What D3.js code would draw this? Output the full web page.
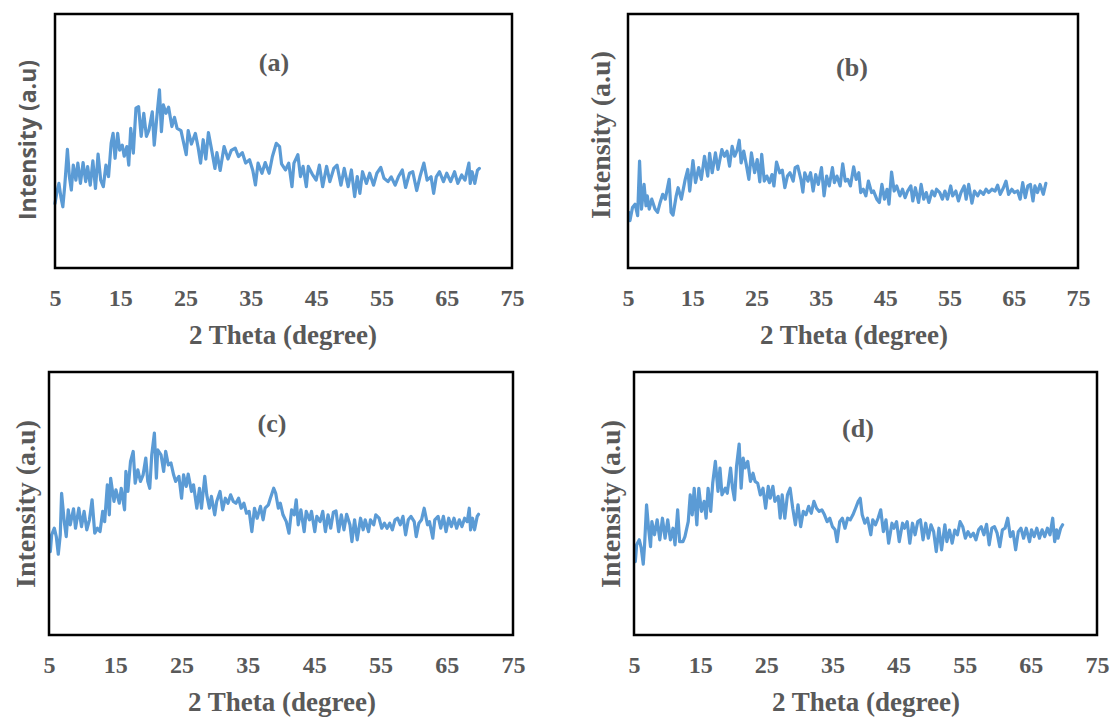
<!DOCTYPE html>
<html>
<head>
<meta charset="utf-8">
<script src="https://cdn.jsdelivr.net/npm/d3@7"></script>
<style>
  body { margin: 0; background: #fff; }
  .tick-label { font-family: "Liberation Serif", "Times New Roman", serif; font-weight: bold; fill: #595959; }
  .axis-title { font-family: "Liberation Serif", "Times New Roman", serif; font-weight: bold; fill: #595959; }
  .panel-label { font-family: "Liberation Serif", "Times New Roman", serif; font-weight: bold; fill: #595959; }
</style>
</head>
<body>
<div id="chart"></div>
<script>
// x axis ticks (2 theta, degree)
const xTicks = [5, 15, 25, 35, 45, 55, 65, 75];
const panelNames = ["(a)", "(b)", "(c)", "(d)"];

// (a)
const thetaA = [5.0,5.3,5.6,5.9,6.2,6.5,6.9,7.2,7.5,7.8,8.2,8.5,8.9,9.3,9.7,10.0,10.4,10.8,11.2,11.6,12.0,12.4,12.8,13.2,13.6,13.9,14.2,14.6,14.9,15.3,15.6,16.0,16.3,16.6,17.0,17.4,17.8,18.2,18.6,19.0,19.4,19.9,20.2,20.7,21.0,21.3,21.6,22.0,22.4,22.9,23.3,23.7,24.3,24.6,25.1,25.4,25.9,26.5,26.9,27.3,27.7,28.1,28.5,29.0,29.5,29.8,30.3,30.9,31.5,32.0,32.6,33.1,33.7,34.2,34.8,35.3,35.7,36.1,36.7,37.2,37.8,38.3,38.9,39.4,39.7,40.3,40.8,41.3,41.6,42.2,42.6,43.0,43.5,43.8,44.4,45.0,45.5,46.0,46.6,47.1,47.7,48.2,48.8,49.3,49.9,50.4,50.9,51.3,51.7,52.1,52.7,53.2,53.8,54.3,54.9,55.4,56.0,56.5,57.1,57.6,58.2,58.7,59.3,59.8,60.4,60.9,61.5,62.0,62.6,63.0,63.4,63.9,64.5,65.0,65.6,66.2,66.7,67.3,67.8,68.4,68.6,68.9,69.3,69.7,70.0];
const intensityA = [25.4,30.0,33.3,28.0,24.1,32.6,46.7,36.0,30.7,40.5,34.6,41.3,33.3,41.5,34.0,39.9,32.6,42.2,31.3,44.8,34.6,32.0,40.5,36.0,49.1,53.0,43.2,53.0,46.4,48.4,44.0,47.8,40.5,55.0,45.2,62.9,63.5,51.8,60.9,51.8,54.4,61.5,48.4,62.2,70.1,53.7,64.2,60.9,63.3,55.7,59.3,55.0,54.1,50.5,44.6,54.1,48.8,53.0,47.8,41.3,50.5,42.9,53.3,46.4,39.2,45.4,38.4,47.8,42.9,46.3,47.2,43.9,45.4,41.3,42.6,38.4,32.7,41.3,37.3,41.5,37.3,43.9,49.1,47.8,41.0,38.6,41.3,32.0,41.3,44.6,36.0,40.0,32.0,40.0,37.0,34.6,40.5,32.0,40.0,34.0,39.2,40.5,32.6,39.2,32.0,38.6,28.1,36.0,29.4,37.9,33.3,37.3,32.6,37.3,39.6,35.3,34.0,35.9,32.6,35.9,38.6,31.7,37.3,37.9,30.5,35.9,41.3,34.6,35.9,29.4,35.9,37.9,34.0,37.3,34.0,37.9,33.3,36.6,34.6,41.3,33.3,37.9,33.3,38.4,39.2];

// (b)
const thetaB = [5.1,5.3,5.7,6.1,6.5,6.8,7.1,7.5,7.8,8.0,8.3,8.7,9.2,9.6,10.0,10.4,10.8,11.4,11.7,12.0,12.5,12.8,13.3,13.9,14.3,14.6,15.1,15.5,16.0,16.4,16.9,17.4,17.7,18.1,18.6,19.0,19.6,20.0,20.4,20.8,21.2,21.6,22.0,22.3,22.6,23.0,23.4,23.8,24.2,24.7,25.1,25.5,25.8,26.2,26.6,27.0,27.4,27.7,28.1,28.6,29.0,29.4,29.8,30.2,30.7,31.0,31.4,31.9,32.2,32.5,33.0,33.4,33.8,34.2,34.6,35.1,35.5,35.9,36.3,36.8,37.1,37.5,38.0,38.4,38.8,39.2,39.6,40.1,40.5,40.9,41.2,41.6,42.0,42.4,42.9,43.2,43.7,44.1,44.5,44.9,45.3,45.6,46.0,46.4,46.8,47.3,47.7,48.1,48.5,49.0,49.3,49.7,50.2,50.6,51.0,51.4,51.8,52.3,52.7,53.0,53.5,53.9,54.3,54.7,55.2,55.5,56.0,56.4,56.8,57.3,57.6,58.0,58.5,58.9,59.4,59.8,60.3,60.7,61.1,61.6,62.1,62.5,62.9,63.4,63.8,64.2,64.7,65.1,65.6,66.0,66.4,66.8,67.2,67.6,68.0,68.3,68.7,69.1,69.6,70.0];
const intensityB = [21.9,18.6,23.8,25.1,20.6,42.1,23.2,32.9,24.5,28.4,23.2,27.1,23.2,21.9,25.8,29.0,27.1,34.9,21.9,20.8,28.4,31.6,27.1,34.9,38.8,30.3,42.3,33.6,39.5,34.9,44.0,36.2,45.1,37.5,45.3,38.8,46.6,44.0,46.0,40.1,47.9,44.0,46.6,50.3,41.4,46.0,40.8,34.9,45.3,37.5,42.7,33.9,44.7,34.2,36.2,33.6,36.8,32.3,41.7,37.5,38.5,31.6,36.2,37.5,34.2,39.5,40.1,34.9,29.9,37.5,34.2,37.5,30.3,36.8,32.9,39.5,28.4,36.2,32.3,39.5,33.6,36.2,32.3,41.0,34.2,34.9,32.3,39.8,34.9,37.5,29.7,31.0,28.4,34.2,29.7,30.3,27.1,25.8,32.9,27.1,31.0,25.1,37.8,30.3,32.3,28.4,31.0,27.7,30.3,32.3,26.4,31.6,25.8,32.9,27.1,29.7,25.8,30.3,28.4,31.0,29.7,27.1,30.3,27.1,32.3,28.4,30.3,26.4,29.7,32.3,27.1,32.9,25.5,30.3,28.4,30.3,29.0,31.0,29.7,31.0,30.3,32.6,29.0,31.6,34.2,29.0,31.0,29.7,30.3,27.1,33.6,27.7,32.3,32.9,26.4,32.3,29.7,32.9,29.0,33.3];

// (c)
const thetaC = [5.2,5.4,5.8,6.1,6.4,6.7,6.9,7.3,7.6,7.9,8.2,8.7,9.0,9.5,9.9,10.3,10.7,11.1,11.5,11.9,12.3,12.7,13.1,13.4,13.8,14.1,14.3,14.8,15.1,15.6,15.9,16.4,16.6,16.9,17.3,17.7,18.0,18.4,18.8,19.2,19.6,19.9,20.2,20.5,20.9,21.2,21.4,21.9,22.3,22.6,23.0,23.4,23.8,24.1,24.6,25.0,25.3,25.7,26.0,26.5,26.8,27.3,27.7,28.0,28.5,28.8,29.2,29.5,30.0,30.3,30.8,31.2,31.6,32.0,32.4,32.8,33.2,33.6,34.0,34.4,34.8,35.2,35.6,36.0,36.4,36.9,37.3,37.6,38.1,38.4,38.9,39.2,39.6,39.9,40.3,40.8,41.2,41.6,42.0,42.3,42.6,43.0,43.5,43.8,44.3,44.6,45.1,45.4,45.9,46.3,46.7,47.1,47.5,47.9,48.3,48.7,49.1,49.5,49.9,50.4,50.7,51.1,51.5,52.0,52.4,52.7,53.2,53.5,54.0,54.3,54.8,55.2,55.6,56.0,56.4,56.8,57.2,57.6,58.0,58.4,58.8,59.2,59.6,60.1,60.4,60.8,61.2,61.6,62.1,62.4,62.9,63.2,63.7,64.1,64.5,64.9,65.3,65.7,66.1,66.5,66.9,67.3,67.7,68.1,68.4,68.6,68.9,69.2,69.6,69.8];
const intensityC = [31.7,38.1,40.6,37.4,30.7,38.1,53.9,43.1,37.4,47.6,41.9,48.0,40.6,48.2,41.2,47.0,40.0,43.8,51.4,38.7,40.6,39.3,47.0,43.1,57.1,45.7,59.6,50.8,55.2,50.1,55.8,47.6,62.2,54.6,66.0,69.8,57.7,62.8,58.4,60.9,67.3,58.4,55.8,68.5,76.8,59.6,70.4,68.5,62.2,69.8,64.7,65.4,60.9,58.4,60.3,52.0,60.9,56.5,61.2,54.6,57.1,48.2,55.8,48.2,60.3,53.3,48.2,52.7,45.7,50.8,54.6,47.6,52.0,50.1,53.3,50.8,50.1,52.0,48.2,50.1,46.3,47.0,39.3,48.2,44.4,48.9,43.8,48.2,49.5,52.0,55.8,53.9,48.2,50.1,45.7,43.1,38.7,47.6,45.7,51.4,41.9,47.6,39.3,47.0,43.8,47.0,39.3,45.1,43.1,47.0,39.3,45.7,40.6,46.7,47.2,39.3,45.7,40.0,45.9,41.9,35.5,43.8,36.2,44.4,40.0,43.8,39.3,43.8,41.9,45.7,44.4,40.6,42.5,40.6,42.5,40.0,43.8,44.4,41.9,45.1,38.1,43.8,45.1,43.1,37.4,42.5,43.8,48.2,41.9,43.1,36.8,43.8,45.1,40.6,45.1,39.3,44.4,41.2,44.4,40.6,43.8,41.2,44.4,43.1,48.2,40.0,44.4,40.0,45.1,45.9];

// (d)
const thetaD = [5.2,5.4,5.8,6.1,6.4,6.6,6.9,7.2,7.5,7.7,8.1,8.5,8.9,9.3,9.7,10.1,10.5,10.9,11.2,11.6,11.9,12.4,12.7,13.2,13.5,13.8,14.1,14.5,14.8,15.2,15.6,15.9,16.2,16.6,16.9,17.3,17.7,18.0,18.3,18.8,19.1,19.6,19.9,20.2,20.5,20.9,21.2,21.5,21.8,22.2,22.6,23.0,23.3,23.7,24.1,24.5,24.9,25.3,25.6,26.0,26.3,26.8,27.1,27.4,27.8,28.2,28.6,29.0,29.4,29.8,30.2,30.6,31.0,31.4,31.8,32.2,32.6,33.0,33.4,33.8,34.2,34.6,35.0,35.4,35.7,36.1,36.5,36.9,37.3,37.7,38.1,38.5,38.9,39.2,39.5,39.9,40.3,40.8,41.1,41.5,41.9,42.3,42.7,43.1,43.5,44.0,44.3,44.7,45.1,45.6,45.9,46.3,46.7,47.1,47.5,47.9,48.3,48.7,49.1,49.5,49.9,50.3,50.7,51.1,51.5,52.0,52.3,52.7,53.1,53.5,53.9,54.3,54.7,55.1,55.5,55.9,56.3,56.7,57.1,57.5,57.9,58.3,58.7,59.1,59.5,59.9,60.3,60.7,61.1,61.5,61.9,62.3,62.7,63.1,63.5,63.9,64.3,64.8,65.1,65.5,65.9,66.3,66.7,67.1,67.5,67.9,68.3,68.6,68.9,69.1,69.5,69.8];
const intensityD = [27.9,34.3,36.2,33.0,26.9,34.3,49.5,40.6,33.6,43.1,38.1,43.8,36.2,44.4,36.8,43.8,36.2,40.6,34.3,47.6,35.5,35.5,37.4,43.1,53.3,45.7,55.8,41.9,55.8,47.0,50.8,44.4,55.8,47.0,57.7,66.0,54.6,63.5,53.3,55.8,53.9,63.5,55.8,51.4,64.1,72.6,55.8,67.3,63.5,66.0,58.4,61.5,58.4,57.7,53.3,55.8,48.2,56.5,52.0,56.5,50.8,52.7,44.4,53.3,44.4,53.3,55.8,48.2,41.9,49.5,41.2,47.0,45.7,48.9,46.3,50.8,48.2,47.0,47.6,45.7,43.1,44.4,41.2,40.0,35.5,43.1,44.4,40.6,44.4,43.8,45.7,48.2,50.8,52.0,45.7,42.5,44.4,38.1,43.8,41.9,44.4,47.6,39.3,43.8,34.9,42.5,40.6,43.1,35.5,42.5,40.6,43.1,34.9,42.5,38.1,43.1,43.8,36.2,42.5,36.8,41.9,39.3,31.7,40.6,32.4,41.9,35.5,39.9,34.9,39.9,38.1,43.1,41.2,36.8,39.3,37.4,38.7,36.2,40.0,41.2,38.1,42.1,34.3,40.6,41.2,38.7,33.6,40.0,40.6,44.4,37.4,39.3,32.4,39.3,40.6,36.8,40.6,35.5,40.0,37.4,40.6,36.8,40.0,37.4,40.6,38.1,44.4,35.5,40.0,36.8,40.6,41.9];

const seriesTheta = [thetaA, thetaB, thetaC, thetaD];
const seriesIntensity = [intensityA, intensityB, intensityC, intensityD];

// frame of each panel (pixels) and where its texts sit
const panels = [
  { x0: 55,  x1: 512,  y0: 14,  y1: 268, labelX: 274, labelY: 62,  tickY: 298, titleX: 283, titleY: 335, yTitleX: 28,  yTitleY: 140, sans: true },
  { x0: 628, x1: 1078, y0: 14,  y1: 268, labelX: 852, labelY: 67,  tickY: 298, titleX: 854, titleY: 335, yTitleX: 600, yTitleY: 135, sans: false },
  { x0: 49,  x1: 513,  y0: 372, y1: 635, labelX: 272, labelY: 423, tickY: 665, titleX: 282, titleY: 702, yTitleX: 25,  yTitleY: 504, sans: false },
  { x0: 634, x1: 1097, y0: 372, y1: 635, labelX: 858, labelY: 428, tickY: 665, titleX: 866, titleY: 702, yTitleX: 610, yTitleY: 504, sans: false }
];

const W = 1115, H = 718;
const svg = d3.select("#chart").append("svg")
  .attr("width", W)
  .attr("height", H)
  .attr("viewBox", `0 0 ${W} ${H}`);

panels.forEach((p, i) => {
  const x = d3.scaleLinear().domain([5, 75]).range([p.x0, p.x1]);
  const y = d3.scaleLinear().domain([0, 100]).range([p.y1, p.y0]);

  const g = svg.append("g");

  // the line
  const pts = seriesTheta[i].map((t, k) => [t, seriesIntensity[i][k]]);
  g.append("path")
    .datum(pts)
    .attr("fill", "none")
    .attr("stroke", "#5b9bd5")
    .attr("stroke-width", 3.2)
    .attr("stroke-linejoin", "round")
    .attr("stroke-linecap", "round")
    .attr("d", d3.line().x(d => x(d[0])).y(d => y(d[1])));

  // frame
  g.append("rect")
    .attr("x", p.x0)
    .attr("y", p.y0)
    .attr("width", p.x1 - p.x0)
    .attr("height", p.y1 - p.y0)
    .attr("fill", "none")
    .attr("stroke", "#000")
    .attr("stroke-width", 2.5);

  // x axis tick labels
  const xAxis = d3.axisBottom(x).tickValues(xTicks).tickSize(0).tickPadding(0);
  const ax = g.append("g")
    .attr("transform", `translate(0, ${p.tickY})`)
    .call(xAxis);
  ax.select(".domain").remove();
  ax.selectAll("text")
    .attr("class", "tick-label")
    .attr("y", 0)
    .attr("dy", "0.35em")
    .style("font-size", "24px");

  // x title
  g.append("text")
    .attr("class", "axis-title")
    .attr("x", p.titleX)
    .attr("y", p.titleY)
    .attr("dy", "0.35em")
    .attr("text-anchor", "middle")
    .style("font-size", "27px")
    .text("2 Theta (degree)");

  // y title
  const yt = g.append("text")
    .attr("transform", `translate(${p.yTitleX}, ${p.yTitleY}) rotate(-90)`)
    .attr("dy", "0.35em")
    .attr("text-anchor", "middle")
    .style("font-weight", "bold")
    .style("fill", "#595959")
    .text("Intensity (a.u)");
  if (p.sans) {
    yt.style("font-family", "'Open Sans', sans-serif").style("font-size", "23px");
  } else {
    yt.style("font-family", "'Liberation Serif', 'Times New Roman', serif").style("font-size", "28px");
  }

  // panel name
  g.append("text")
    .attr("class", "panel-label")
    .attr("x", p.labelX)
    .attr("y", p.labelY)
    .attr("dy", "0.35em")
    .attr("text-anchor", "middle")
    .style("font-size", "26px")
    .text(panelNames[i]);
});
</script>
</body>
</html>
